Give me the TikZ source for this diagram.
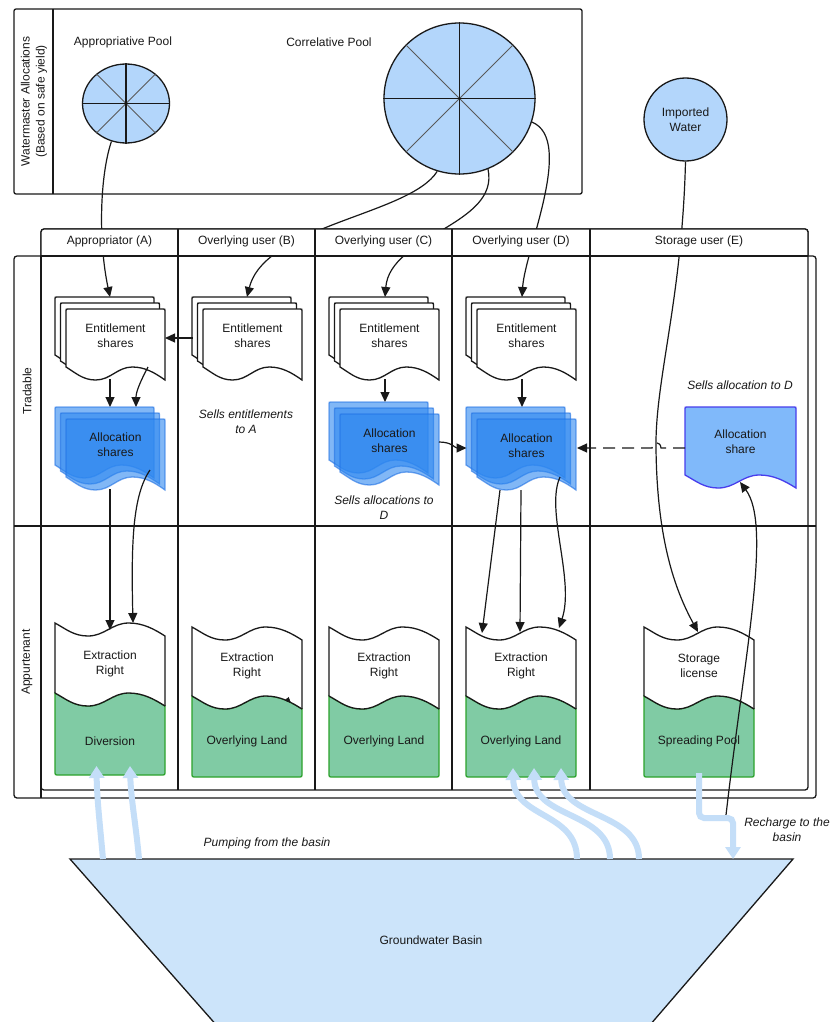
\documentclass[tikz,border=0pt]{standalone}
\usepackage{fontspec}
\setmainfont{Liberation Sans}
\usetikzlibrary{arrows.meta,shapes.geometric}

\definecolor{ink}{RGB}{25,25,25}
\definecolor{poolblue}{RGB}{179,214,251}
\definecolor{basinblue}{RGB}{204,228,250}
\definecolor{pumpblue}{RGB}{196,222,248}
\definecolor{landgreen}{RGB}{128,203,164}
\definecolor{landedge}{RGB}{44,162,44}
\definecolor{allocblue}{RGB}{45,135,240}
\definecolor{allocedge}{RGB}{30,112,228}
\definecolor{shareblue}{RGB}{128,185,250}
\definecolor{shareedge}{RGB}{72,62,236}

% wavy edge, left to right: from (x,y) to (x+w,y+13)
\newcommand{\wavefwd}[3]{%
  .. controls ({#1+0.1*#3},{#2+6}) and ({#1+0.17*#3},{#2+13}) .. ({#1+0.3*#3},{#2+13})
  .. controls ({#1+0.45*#3},{#2+13}) and ({#1+0.52*#3},{#2}) .. ({#1+0.67*#3},{#2})
  .. controls ({#1+0.8*#3},{#2}) and ({#1+0.9*#3},{#2+6}) .. ({#1+#3},{#2+13})}
% the same edge, right to left
\newcommand{\wavebck}[3]{%
  .. controls ({#1+0.9*#3},{#2+6}) and ({#1+0.8*#3},{#2}) .. ({#1+0.67*#3},{#2})
  .. controls ({#1+0.52*#3},{#2}) and ({#1+0.45*#3},{#2+13}) .. ({#1+0.3*#3},{#2+13})
  .. controls ({#1+0.17*#3},{#2+13}) and ({#1+0.1*#3},{#2+6}) .. ({#1},{#2})}
% document sheet: style, x, y, width, height of the left side
\newcommand{\docshape}[5]{%
  \path[#1] ({#2},{#3+#5}) -- ({#2},{#3+2}) .. controls ({#2},{#3}) .. ({#2+2},{#3})
    -- ({#2+#4-2},{#3}) .. controls ({#2+#4},{#3}) .. ({#2+#4},{#3+2})
    -- ({#2+#4},{#3+#5+13}) \wavebck{#2}{#3+#5}{#4} -- cycle;}
% pile of three sheets
\newcommand{\docstack}[3]{%
  \docshape{#1}{#2}{#3}{99}{58}%
  \docshape{#1}{#2+5.5}{#3+6}{99}{58}%
  \docshape{#1}{#2+11}{#3+12}{99}{58}}
% right over land: x, top, width, divider, bottom
\newcommand{\flagshape}[5]{%
  \path[fill=landgreen,draw=landedge,line width=1.3pt] ({#1},{#4}) \wavefwd{#1}{#4}{#3}
    -- ({#1+#3},{#5-4}) .. controls ({#1+#3},{#5}) .. ({#1+#3-4},{#5})
    -- ({#1+4},{#5}) .. controls ({#1},{#5}) .. ({#1},{#5-4}) -- cycle;
  \path[fill=white] ({#1},{#4}) -- ({#1},{#2}) \wavefwd{#1}{#2}{#3}
    -- ({#1+#3},{#4+13}) \wavebck{#1}{#4}{#3} -- cycle;
  \draw[ink,line width=1.3pt] ({#1},{#4}) -- ({#1},{#2}) \wavefwd{#1}{#2}{#3} -- ({#1+#3},{#4+13});
  \draw[ink,line width=1.3pt] ({#1},{#4}) \wavefwd{#1}{#4}{#3};}

\tikzset{
  txt/.style={font=\fontsize{12}{15}\selectfont, text=ink, align=center, inner sep=0pt},
  note/.style={txt, font=\fontsize{12}{15}\selectfont\itshape},
  flow/.style={draw=ink, line width=1.2pt, -{Triangle[length=10pt,width=9pt]}},
  pump/.style={draw=pumpblue, line width=6pt, -{Triangle[length=12pt,width=15pt]}},
  frame/.style={draw=ink, line width=1.3pt},
  entdoc/.style={fill=white, draw=ink, line width=1.3pt},
  allocdoc/.style={fill=allocblue, draw=allocedge, line width=1.3pt, opacity=0.6},
  pool/.style={fill=poolblue, draw=ink, line width=1.3pt, inner sep=0pt},
}

\begin{document}
\begin{tikzpicture}[x=1pt,y=-1pt]
\useasboundingbox (0,0) rectangle (837,1022);
\clip (0,0) rectangle (837,1022);
\fill[white] (0,0) rectangle (837,1022);

% watermaster allocations
\draw[frame, rounded corners=2pt] (14,9) rectangle (582,194);
\draw[frame] (53,9) -- (53,194);
\node[txt, rotate=90] (wm) at (34,101.5) {Watermaster Allocations\\(Based on safe yield)};
\node[txt] (apool-lbl) at (123,42) {Appropriative Pool};
\node[txt] (cpool-lbl) at (329,42) {Correlative Pool};

\node[pool, ellipse, minimum width=87pt, minimum height=79pt] (apool) at (126,103.5) {};
\draw[black!65, line width=.9pt] (apool.45) -- (apool.225) (apool.135) -- (apool.315);
\draw[ink, line width=1.2pt] (apool.north) -- (apool.south) (apool.west) -- (apool.east);

\node[pool, circle, minimum size=151pt] (cpool) at (459.5,98.5) {};
\draw[black!65, line width=.9pt] (cpool.45) -- (cpool.225) (cpool.135) -- (cpool.315);
\draw[ink, line width=1.2pt] (cpool.north) -- (cpool.south) (cpool.west) -- (cpool.east);

\node[txt, pool, circle, minimum size=83pt] (iwater) at (685.5,119.5) {Imported\\Water};

% lanes and columns
\draw[frame, rounded corners=3pt] (14,256) rectangle (816,798);
\draw[frame] (14,526) -- (816,526);
\draw[frame, rounded corners=3pt] (41,229) rectangle (808,790);
\draw[frame] (41,256) -- (41,798);
\foreach \x in {178,315,452,590} \draw[frame] (\x,229) -- (\x,790);
\node[txt, rotate=90] (lane-trade) at (27,391) {Tradable};
\node[txt, rotate=90] (lane-app) at (27,662) {Appurtenant};

% entitlement and allocation sheets
\docstack{entdoc}{55}{297}
\docstack{entdoc}{192}{297}
\docstack{entdoc}{329}{297}
\docstack{entdoc}{466}{297}
\node[txt] (entA) at (115.5,335.5) {Entitlement\\shares};
\node[txt] (entB) at (252.5,335.5) {Entitlement\\shares};
\node[txt] (entC) at (389.5,335.5) {Entitlement\\shares};
\node[txt] (entD) at (526.5,335.5) {Entitlement\\shares};

\docstack{allocdoc}{55}{407}
\docstack{allocdoc}{329}{402}
\docstack{allocdoc}{466}{407}
\node[txt] (allocA) at (115.5,445) {Allocation\\shares};
\node[txt] (allocC) at (389.5,440.5) {Allocation\\shares};
\node[txt] (allocD) at (526.5,445.5) {Allocation\\shares};

\docshape{fill=shareblue, draw=shareedge, line width=1.3pt}{685}{407}{111}{68}
\node[txt] (allocE) at (740.5,441.5) {Allocation\\share};

% rights tied to land
\flagshape{55}{623}{110}{693}{775}
\flagshape{192}{627}{110}{696}{777}
\flagshape{329}{627}{110}{696}{777}
\flagshape{466}{627}{110}{696}{777}
\flagshape{644}{627}{110}{696}{777}
\node[txt] (extA) at (110,663.5) {Extraction\\Right};
\node[txt] (extB) at (247,665.5) {Extraction\\Right};
\node[txt] (extC) at (384,665.5) {Extraction\\Right};
\node[txt] (extD) at (521,665.5) {Extraction\\Right};
\node[txt] (extE) at (699,665.5) {Storage\\license};
\node[txt] (landA) at (110,741) {Diversion};
\node[txt] (landB) at (247,741) {Overlying Land};
\node[txt] (landC) at (384,741) {Overlying Land};
\node[txt] (landD) at (521,741) {Overlying Land};
\node[txt] (landE) at (699,741) {Spreading Pool};

% notes
\node[note] (noteB) at (246,422) {Sells entitlements\\to A};
\node[note] (noteC) at (384,507.5) {Sells allocations to\\D};
\node[note] (noteE) at (740,385) {Sells allocation to D};
\node[note] (notePump) at (267,843) {Pumping from the basin};
\node[note] (noteRech) at (787,830) {Recharge to the\\basin};

% connection points
\coordinate (entA-top) at (110,297);
\coordinate (entB-top) at (247,297);
\coordinate (entC-top) at (385,297);
\coordinate (entD-top) at (522,297);
\coordinate (hop) at (656,448);
\coordinate (storage-top) at (698,632);
\coordinate (entB-w) at (192.5,338);
\coordinate (entA-e) at (165,338);
\coordinate (entA-bot) at (110,379);
\coordinate (entA-bot2) at (148,367);
\coordinate (allocA-top) at (110,407);
\coordinate (allocA-top2) at (136,407);
\coordinate (allocA-bot) at (110,489);
\coordinate (allocA-bot2) at (150,470);
\coordinate (extA-top) at (110,630);
\coordinate (extA-top2) at (133,623);
\coordinate (entC-bot) at (385,379);
\coordinate (allocC-top) at (385,402);
\coordinate (allocC-e) at (439,442);
\coordinate (allocD-w) at (466.5,448);
\coordinate (allocD-e) at (577,448);
\coordinate (entD-bot) at (522,379);
\coordinate (allocD-top) at (522,407);
\coordinate (allocD-bot1) at (500,490);
\coordinate (allocD-bot2) at (521,490);
\coordinate (allocD-bot3) at (560,477);
\coordinate (extD-top1) at (482,633);
\coordinate (extD-top2) at (520,632);
\coordinate (extD-top3) at (559,628);
\coordinate (allocE-w) at (685,448);
\coordinate (allocE-bot) at (740,482);
\coordinate (rech-turn) at (726,815);
\coordinate (stray-a) at (286.5,698.5);
\coordinate (stray-b) at (291,703);

% connectors
\draw[flow] (apool.249) .. controls (100,175) and (98,240) .. (entA-top);
\draw[flow] (cpool.253) .. controls (410,215) and (265,225) .. (entB-top);
\draw[flow] (cpool.292) .. controls (500,225) and (390,235) .. (entC-top);
\draw[flow] (cpool.342) .. controls (575,140) and (525,250) .. (entD-top);
\draw[flow] (iwater.south) .. controls (682,300) and (655,380) .. (hop)
  .. controls (657,540) and (675,590) .. (storage-top);
\draw[flow] (entB-w) -- (entA-e);
\draw[flow] (entA-bot) -- (allocA-top);
\draw[flow] (entA-bot2) .. controls (140,382) and (136,392) .. (allocA-top2);
\draw[flow] (allocA-bot) -- (extA-top);
\draw[flow] (allocA-bot2) .. controls (133,495) and (131,540) .. (extA-top2);
\draw[flow] (entC-bot) -- (allocC-top);
\draw[flow] (allocC-e) .. controls (452,442) and (455,448) .. (allocD-w);
\draw[flow] (entD-bot) -- (allocD-top);
\draw[flow] (allocD-bot1) -- (extD-top1);
\draw[flow] (allocD-bot2) -- (extD-top2);
\draw[flow] (allocD-bot3) .. controls (545,510) and (575,580) .. (extD-top3);
\draw[flow, dash pattern=on 12pt off 7pt] (allocE-w) -- (661,448)
  .. controls (660.5,441) and (652.5,441) .. (652,448) -- (allocD-e);
\draw[flow] (rech-turn) .. controls (745,650) and (772,525) .. (allocE-bot);
\draw[ink, line width=.6pt, -{Triangle[length=6pt,width=5pt]}] (stray-a) -- (stray-b);

% lane headers
\path[fill=white, draw=ink, line width=1.3pt, rounded corners=3pt] (41,256) -- (41,229) -- (808,229) -- (808,256);
\draw[frame] (41,256) -- (808,256);
\foreach \x in {178,315,452,590} \draw[frame] (\x,229) -- (\x,256);
\node[txt] (hA) at (109.5,241.5) {Appropriator (A)};
\node[txt] (hB) at (246.5,241.5) {Overlying user (B)};
\node[txt] (hC) at (383.5,241.5) {Overlying user (C)};
\node[txt] (hD) at (521,241.5) {Overlying user (D)};
\node[txt] (hE) at (699,241.5) {Storage user (E)};

% groundwater basin and water movement
\draw[fill=basinblue, draw=ink, line width=1.3pt] (70,859) -- (793,859) -- (637,1040) -- (229.5,1040) -- cycle;
\node[txt] (basin) at (431,940) {Groundwater Basin};
\coordinate (pA1) at (103,859);
\coordinate (pA2) at (139,859);
\coordinate (pD1) at (577,859);
\coordinate (pD2) at (610,859);
\coordinate (pD3) at (639,859);
\coordinate (rech-in) at (733,859);
\coordinate (divA1) at (96.5,766);
\coordinate (divA2) at (130,766);
\coordinate (landD1) at (513,768);
\coordinate (landD2) at (534,768);
\coordinate (landD3) at (561,768);
\coordinate (spread-bot) at (699,773);
\draw[pump] (pA1) .. controls (100,825) and (97,800) .. (divA1);
\draw[pump] (pA2) .. controls (136,825) and (131,800) .. (divA2);
\draw[pump] (pD1) .. controls (577,812) and (514,818) .. (landD1);
\draw[pump] (pD2) .. controls (610,812) and (535,818) .. (landD2);
\draw[pump] (pD3) .. controls (639,812) and (562,818) .. (landD3);
\draw[pump, rounded corners=5pt] (spread-bot) -- (699,818) -- (733,818) -- (rech-in);
\end{tikzpicture}
\end{document}
